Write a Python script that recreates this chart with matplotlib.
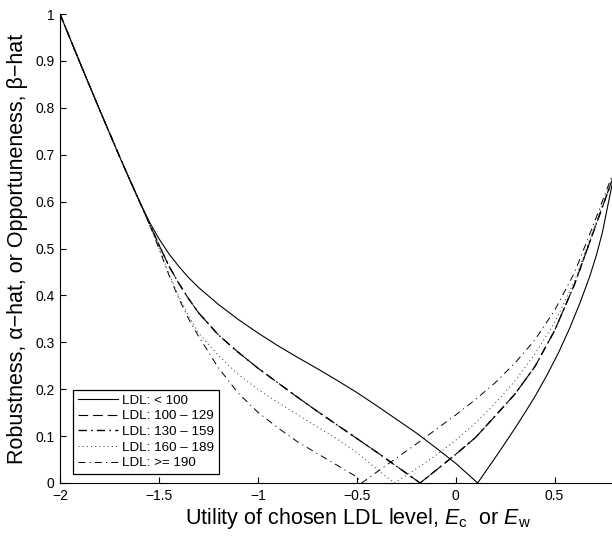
import matplotlib
matplotlib.use("Agg")
import matplotlib.pyplot as plt

plt.rcParams['font.family'] = ['Liberation Sans', 'DejaVu Sans']
plt.rcParams['mathtext.fontset'] = 'custom'
plt.rcParams['mathtext.rm'] = 'Liberation Sans'
plt.rcParams['mathtext.it'] = 'Liberation Sans:italic'
plt.rcParams['lines.scale_dashes'] = False

# ---- data ----
shared_x = [-2.0, -1.9, -1.8, -1.7, -1.65, -1.6]
shared_y = [1.0, 0.897, 0.796, 0.697, 0.649, 0.602]

ldl_lt100_x = [-1.55, -1.5, -1.45, -1.4, -1.35, -1.3, -1.2, -1.1, -1.0, -0.9, -0.8, -0.7, -0.6, -0.5,
               -0.4, -0.3, -0.2, -0.1, 0.0, 0.111,
               0.18, 0.237, 0.3, 0.35, 0.4, 0.46, 0.52, 0.576, 0.63, 0.677, 0.712, 0.742, 0.768, 0.79]
ldl_lt100_y = [0.558, 0.521, 0.489, 0.462, 0.438, 0.417, 0.381, 0.349, 0.32, 0.293, 0.268, 0.244, 0.219, 0.193,
               0.165, 0.136, 0.107, 0.075, 0.042, 0.0,
               0.042, 0.077, 0.117, 0.15, 0.184, 0.229, 0.278, 0.33, 0.386, 0.44, 0.487, 0.535, 0.59, 0.635]

ldl_100_129_x = [-1.55, -1.5, -1.45, -1.4, -1.35, -1.3, -1.2, -1.1, -1.0, -0.9, -0.8, -0.7, -0.6, -0.5,
                 -0.4, -0.3, -0.18,
                 -0.1, 0.0, 0.1, 0.2, 0.3, 0.4, 0.5, 0.6, 0.7, 0.79]
ldl_100_129_y = [0.555, 0.508, 0.463, 0.426, 0.393, 0.363, 0.316, 0.279, 0.245, 0.214, 0.183, 0.153, 0.124, 0.095,
                 0.066, 0.036, 0.0,
                 0.027, 0.061, 0.097, 0.143, 0.19, 0.248, 0.325, 0.423, 0.54, 0.645]

ldl_130_159_x = [-1.55, -1.5, -1.45, -1.4, -1.35, -1.3, -1.2, -1.1, -1.0, -0.9, -0.8, -0.7, -0.6, -0.5,
                 -0.4, -0.3, -0.18,
                 -0.1, 0.0, 0.1, 0.2, 0.3, 0.4, 0.5, 0.6, 0.7, 0.79]
ldl_130_159_y = [0.555, 0.508, 0.463, 0.426, 0.393, 0.363, 0.316, 0.279, 0.245, 0.214, 0.183, 0.153, 0.124, 0.095,
                 0.066, 0.036, 0.0,
                 0.027, 0.061, 0.097, 0.143, 0.19, 0.248, 0.325, 0.423, 0.54, 0.645]

ldl_160_189_x = [-1.55, -1.5, -1.45, -1.4, -1.35, -1.3, -1.2, -1.1, -1.0, -0.9, -0.8, -0.7, -0.6, -0.5,
                 -0.4, -0.31,
                 -0.2, -0.1, 0.0, 0.1, 0.2, 0.3, 0.4, 0.5, 0.6, 0.7, 0.79]
ldl_160_189_y = [0.554, 0.501, 0.447, 0.398, 0.356, 0.32, 0.272, 0.232, 0.2, 0.172, 0.146, 0.12, 0.094, 0.065,
                 0.03, 0.0,
                 0.03, 0.059, 0.091, 0.128, 0.17, 0.218, 0.275, 0.342, 0.43, 0.545, 0.65]

ldl_ge190_x = [-1.55, -1.5, -1.45, -1.4, -1.35, -1.3, -1.2, -1.1, -1.0, -0.9, -0.8, -0.7, -0.6, -0.5,
               -0.475,
               -0.4, -0.3, -0.2, -0.1, 0.0, 0.1, 0.2, 0.3, 0.4, 0.5, 0.6, 0.7, 0.79]
ldl_ge190_y = [0.554, 0.5, 0.444, 0.394, 0.35, 0.313, 0.246, 0.192, 0.151, 0.118, 0.088, 0.063, 0.038, 0.013,
               0.0,
               0.023, 0.053, 0.083, 0.114, 0.145, 0.178, 0.214, 0.256, 0.305, 0.368, 0.448, 0.555, 0.655]

labels = ['LDL: < 100', 'LDL: 100 \u2013 129', 'LDL: 130 \u2013 159',
          'LDL: 160 \u2013 189', 'LDL: >= 190']
xticks = [-2, -1.5, -1, -0.5, 0, 0.5]
xticklabels = ['\u22122', '\u22121.5', '\u22121', '\u22120.5', '0', '0.5']
yticks = [0, 0.1, 0.2, 0.3, 0.4, 0.5, 0.6, 0.7, 0.8, 0.9, 1]
yticklabels = ['0', '0.1', '0.2', '0.3', '0.4', '0.5', '0.6', '0.7', '0.8', '0.9', '1']

fig = plt.figure(figsize=(6.12, 5.42), dpi=100)
ax = fig.add_axes([60/612, 1-483/542, 1-60/612, (483-14)/542])

series = [
    (ldl_lt100_x, ldl_lt100_y, dict(linestyle='-', lw=0.8, color='black')),
    (ldl_100_129_x, ldl_100_129_y, dict(dashes=[7, 3.5], lw=0.8, color='black')),
    (ldl_130_159_x, ldl_130_159_y, dict(dashes=[6, 3, 1.2, 3], lw=1.0, color='black')),
    (ldl_160_189_x, ldl_160_189_y, dict(dashes=[0.8, 2.2], lw=0.7, color='#444444')),
    (ldl_ge190_x, ldl_ge190_y, dict(dashes=[5, 3, 0.8, 3], lw=0.7, color='black')),
]
for (xs, ys, st), lab in zip(series, labels):
    ax.plot(shared_x + xs, shared_y + ys, label=lab, solid_joinstyle='round',
            dash_joinstyle='round', **st)

ax.set_xlim(-2, 0.79)
ax.set_ylim(0, 1)
ax.set_xticks(xticks)
ax.set_xticklabels(xticklabels)
ax.set_yticks(yticks)
ax.set_yticklabels(yticklabels)
ax.tick_params(direction='in', length=4, width=0.8, labelsize=10, pad=4)
for s in ['top', 'right']:
    ax.spines[s].set_visible(False)
for s in ['left', 'bottom']:
    ax.spines[s].set_linewidth(0.8)

ax.set_xlabel(r'Utility of chosen LDL level, $E_{\mathrm{c}}$  or $E_{\mathrm{w}}$', fontsize=15.5, labelpad=1)
ax.xaxis.set_label_coords(0.54, -0.048, transform=ax.transAxes)
ax.xaxis.label.set_va('top')
ax.set_ylabel('Robustness, \u03b1\u2212hat, or Opportuneness, \u03b2\u2212hat', fontsize=15.5, labelpad=5)

leg = ax.legend(loc='lower left', bbox_to_anchor=(0.024, 0.019), fontsize=9.6,
                frameon=True, fancybox=False, framealpha=1, edgecolor='black',
                handlelength=3.0, borderpad=0.35, labelspacing=0.25, handletextpad=0.3,
                borderaxespad=0)
leg.get_frame().set_linewidth(0.9)

fig.savefig('out.png', dpi=100)
